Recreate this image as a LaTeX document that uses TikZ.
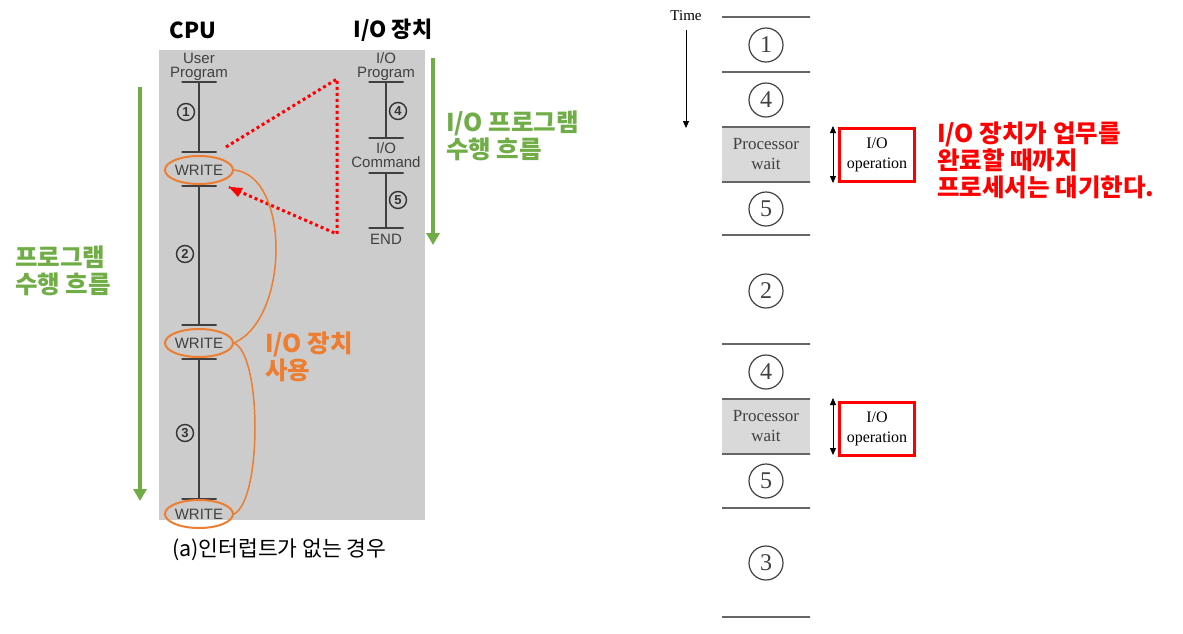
\documentclass[tikz,border=0pt]{standalone}
\usepackage{fontspec}
\newfontfamily\krfont{Noto Sans CJK KR}
\newfontfamily\arfont{Liberation Sans}
\newfontfamily\tmfont{Liberation Serif}
\usetikzlibrary{arrows.meta,shapes.geometric}
\definecolor{grn}{HTML}{70AD47}
\definecolor{org}{HTML}{ED7D31}
\definecolor{panel}{HTML}{CCCCCC}
\definecolor{ink}{HTML}{404040}
\definecolor{rline}{HTML}{666666}
\definecolor{waitfill}{HTML}{D9D9D9}
\tikzset{
  kr/.style={font=\krfont\bfseries\fontsize{24.5}{27}\selectfont, align=left, inner sep=0pt},
  head/.style={font=\krfont\bfseries\fontsize{22}{25}\selectfont, inner sep=0pt},
  small/.style={font=\arfont\fontsize{15}{14}\selectfont, text=ink, align=center, inner sep=0pt},
  lbar/.style={draw=ink, line width=1.3pt, minimum width=35pt, minimum height=0pt, inner sep=0pt, outer sep=0pt},
  vline/.style={draw=ink, line width=1.3pt},
  lnum/.style={circle, draw=ink!80!black, line width=1.4pt, minimum size=17pt, inner sep=0pt, font=\arfont\bfseries\fontsize{13}{13}\selectfont, text=ink!80!black},
  wr/.style={ellipse, draw=org, line width=2pt, minimum width=68pt, minimum height=28pt, inner sep=0pt},
  ocurve/.style={draw=org, line width=1.5pt},
  rdot/.style={draw=red, line width=3pt, dash pattern=on 3pt off 3pt},
  garrow/.style={draw=grn, line width=4pt, -{Triangle[length=12pt,width=13pt]}},
  rbar/.style={draw=rline, line width=1.3pt, minimum width=88pt, minimum height=0pt, inner sep=0pt, outer sep=0pt},
  rnum/.style={circle, draw=ink, line width=1.2pt, minimum size=34pt, inner sep=0pt, font=\tmfont\fontsize{24}{24}\selectfont, text=ink},
  waitbox/.style={fill=waitfill, minimum width=88pt, minimum height=55pt, inner sep=0pt, align=center, font=\tmfont\fontsize{17}{20}\selectfont, text=ink},
  iobox/.style={draw=red, line width=3pt, minimum width=75pt, minimum height=53pt, inner sep=0pt, align=center, font=\tmfont\fontsize{16}{20}\selectfont, text=black},
  darrow/.style={draw=black, line width=0.8pt, {Triangle[length=7pt,width=6pt]}-{Triangle[length=7pt,width=6pt]}},
}
\begin{document}
\begin{tikzpicture}[x=1pt,y=-1pt]
\useasboundingbox (0,0) rectangle (1183,633);
% ---------------- left panel ----------------
\fill[panel] (159,50) rectangle (425,520);
\node[head] (cpu) at (193,30) {CPU};
\node[head] (iodev) at (393,30) {I/O 장치};

\node[small] (up) at (199,67) {User\\Program};
\node[lbar] (b1) at (199,82) {};
\node[lbar] (b2) at (199,152) {};
\node[small] (wt1) at (199,170) {WRITE};
\node[wr] (w1) at (199,170) {};
\node[lbar] (b3) at (199,186) {};
\node[lbar] (b4) at (199,325) {};
\node[small] (wt2) at (199,343) {WRITE};
\node[wr] (w2) at (199,343) {};
\node[lbar] (b5) at (199,359) {};
\node[lbar] (b6) at (199,499) {};
\node[small] (wt3) at (199,514) {WRITE};
\node[wr] (w3) at (199,514) {};
\draw[vline] (b1) -- (b2);
\draw[vline] (b3) -- (b4);
\draw[vline] (b5) -- (b6);
\node[lnum] (n1) at (186,112) {1};
\node[lnum] (n2) at (185,254) {2};
\node[lnum] (n3) at (185,433) {3};

\node[small] (iop) at (386,67) {I/O\\Program};
\node[lbar] (c1) at (386,82) {};
\node[lbar] (c2) at (386,138) {};
\node[small] (ioc) at (386,155) {I/O\\Command};
\node[lbar] (c3) at (386,173) {};
\node[lbar] (c4) at (386,228) {};
\node[small] (iend) at (386,239) {END};
\draw[vline] (c1) -- (c2);
\draw[vline] (c3) -- (c4);
\node[lnum] (n4) at (398,111) {4};
\node[lnum] (n5) at (398,200) {5};

% red dotted path
\coordinate (r0) at (226,147);
\coordinate (r1) at (337,79);
\coordinate (r2) at (337,234);
\coordinate (r3) at (229,187);
\draw[rdot] (r0) -- (r1) -- (r2) -- (r3);
\fill[red] (r3) -- ++(14,1) -- ++(-5,9) -- cycle;

% orange curves
\draw[ocurve] (w1.east) .. controls (290,175) and (290,318) .. (w2.east);
\draw[ocurve] (w2.east) .. controls (262,355) and (262,500) .. (w3.east);
\node[kr, text=org, anchor=west] (use) at (265,357) {I/O 장치\\사용};

% green arrows and texts
\coordinate (g1) at (140,87);
\coordinate (g2) at (140,501);
\draw[garrow] (g1) -- (g2);
\coordinate (g3) at (433,58);
\coordinate (g4) at (433,245);
\draw[garrow] (g3) -- (g4);
\node[kr, text=grn, anchor=west] (flowL) at (15,271) {프로그램\\수행 흐름};
\node[kr, text=grn, anchor=west] (flowR) at (446,136) {I/O 프로그램\\수행 흐름};

\node[font=\krfont\fontsize{21.5}{22}\selectfont, anchor=west, inner sep=0pt] (cap) at (172,550) {(a)인터럽트가 없는 경우};

% ---------------- right panel ----------------
\node[font=\tmfont\fontsize{15}{15}\selectfont, inner sep=0pt] (time) at (686,16) {Time};
\coordinate (t1) at (686,30);
\coordinate (t2) at (686,128);
\draw[draw=black, line width=0.8pt, -{Triangle[length=7pt,width=6pt]}] (t1) -- (t2);

\node[waitbox] (pw1) at (766,154.5) {Processor\\wait};
\node[waitbox] (pw2) at (766,426.5) {Processor\\wait};

\node[rbar] (h1) at (766,17) {};
\node[rbar] (h2) at (766,72) {};
\node[rbar] (h3) at (766,127) {};
\node[rbar] (h4) at (766,182) {};
\node[rbar] (h5) at (766,235) {};
\node[rbar] (h6) at (766,344) {};
\node[rbar] (h7) at (766,399) {};
\node[rbar] (h8) at (766,454) {};
\node[rbar] (h9) at (766,508) {};
\node[rbar] (h10) at (766,617) {};

\node[rnum] (k1) at (766,45) {1};
\node[rnum] (k4) at (766,100) {4};
\node[rnum] (k5) at (766,209) {5};
\node[rnum] (k2) at (766,291) {2};
\node[rnum] (k4b) at (766,372) {4};
\node[rnum] (k5b) at (766,481) {5};
\node[rnum] (k3) at (766,563) {3};

\coordinate (d1) at (833,126);
\coordinate (d2) at (833,183);
\draw[darrow] (d1) -- (d2);
\coordinate (d3) at (833,398);
\coordinate (d4) at (833,455);
\draw[darrow] (d3) -- (d4);
\node[iobox] (io1) at (877,155) {I/O\\operation};
\node[iobox] (io2) at (877,429) {I/O\\operation};

\node[kr, text=red, anchor=west] (note) at (937,160) {I/O 장치가 업무를\\완료할 때까지\\프로세서는 대기한다.};
\end{tikzpicture}
\end{document}
